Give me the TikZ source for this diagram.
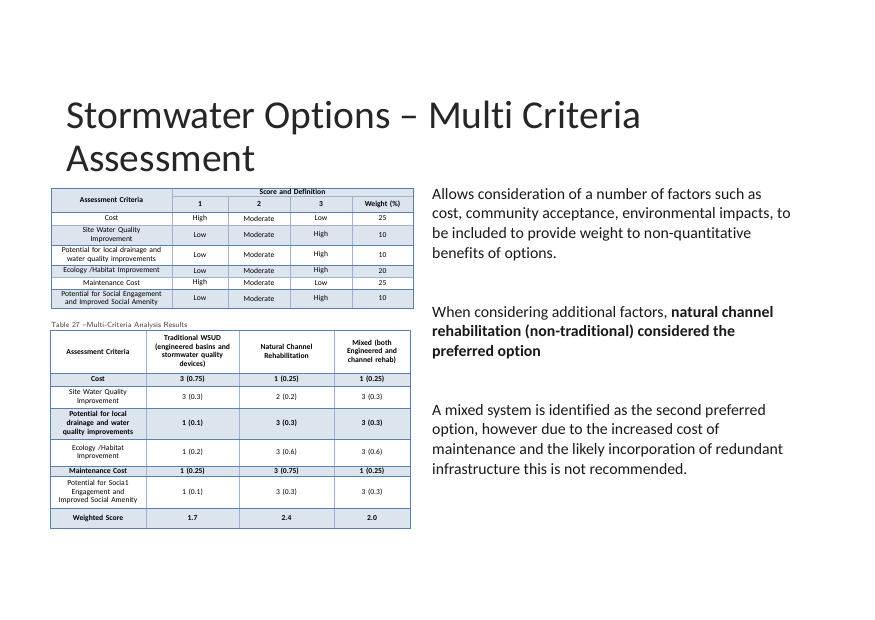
\documentclass[tikz,border=0pt]{standalone}
\usepackage{fontspec}
\setmainfont[Ligatures=NoCommon]{Carlito}
\definecolor{bd}{HTML}{5B7FAF}
\definecolor{sh}{HTML}{DCE4EE}
\newcommand{\tcell}[5]{\node[font=\fontsize{7.6}{8.6}\selectfont,align=center,text width={(#3-#1)*1pt-2pt},inner sep=0pt] at ({(#1+#3)/2},{(#2+#4)/2}) {#5};}
\newcommand{\tshade}[4]{\fill[sh] (#1,#2) rectangle (#3,#4);}
\begin{document}
\begin{tikzpicture}[x=1pt,y=-1pt]
\useasboundingbox (0,0) rectangle (875,619);
\fill[white] (0,0) rectangle (875,619);
\node[anchor=base west,font=\fontsize{39.5}{44}\selectfont,align=left,inner sep=0pt,text=black!85] (title) at (66,128) {Stormwater Options -- Multi Criteria};
\node[anchor=base west,font=\fontsize{39.5}{44}\selectfont,inner sep=0pt,text=black!85] (title2) at (66,171) {Assessment};
% table 1
\tshade{172}{188}{413}{212}
\tshade{51}{188}{172}{212}
\tshade{51}{225}{413}{245}
\tshade{51}{265}{413}{277}
\tshade{51}{289}{413}{308}
\draw[bd!60] (51,188) rectangle (413,308);
\foreach \y in {212,225,245,277,289} \draw[bd!60] (51,\y)--(413,\y);
\draw[bd!60] (172,196)--(413,196);
\foreach \x in {172} \draw[bd!60] (\x,188)--(\x,308);
\foreach \x in {228,290,352} \draw[bd!60] (\x,196)--(\x,308);
\draw[bd,line width=1pt] (51,188) rectangle (413,308);
\draw[bd,line width=1pt] (51,212)--(413,212) (51,265)--(413,265) (51,289)--(413,289) (51,245)--(413,245);
\tcell{51}{188}{172}{212}{\textbf{Assessment Criteria}}
\tcell{172}{188}{413}{196}{\textbf{Score and Definition}}
\tcell{172}{196}{228}{212}{\textbf{1}}\tcell{228}{196}{290}{212}{\textbf{2}}\tcell{290}{196}{352}{212}{\textbf{3}}\tcell{352}{196}{413}{212}{\textbf{Weight (\%)}}
\foreach \ya/\yb/\c/\a/\b/\cc/\w in {212/225/Cost/High/Moderate/Low/25,225/245/Site Water Quality\\Improvement/Low/Moderate/High/10,245/265/Potential for local drainage and\\water quality improvements/Low/Moderate/High/10,265/277/{Ecology /Habitat Improvement}/Low/Moderate/High/20,277/289/Maintenance Cost/High/Moderate/Low/25,289/308/Potential for Social Engagement\\and Improved Social Amenity/Low/Moderate/High/10}{
\tcell{51}{\ya}{172}{\yb}{\c}\tcell{172}{\ya}{228}{\yb}{\a}\tcell{228}{\ya}{290}{\yb}{\b}\tcell{290}{\ya}{352}{\yb}{\cc}\tcell{352}{\ya}{413}{\yb}{\w}}
% table 2
\node[anchor=base west,font=\fontsize{7.5}{9}\sffamily,inner sep=0pt,text=black!75] (cap) at (51,327) {Table 27 --Multi-Criteria Analysis Results};
\tshade{50}{373}{410}{386}
\tshade{50}{408}{410}{439}
\tshade{50}{466}{410}{476}
\tshade{50}{508}{410}{528}
\draw[bd!60] (50,330) rectangle (410,528);
\foreach \y in {373,386,408,439,466,476,508} \draw[bd!60] (50,\y)--(410,\y);
\foreach \x in {146,239,334} \draw[bd!60] (\x,330)--(\x,528);
\draw[bd,line width=1pt] (50,330) rectangle (410,528);
\draw[bd,line width=1pt] (50,373)--(410,373) (50,386)--(410,386) (50,408)--(410,408) (50,439)--(410,439) (50,466)--(410,466) (50,476)--(410,476) (50,508)--(410,508);
\tcell{50}{330}{146}{373}{\textbf{Assessment Criteria}}
\tcell{146}{330}{239}{373}{\textbf{Traditional WSUD\\(engineered basins and\\stormwater quality\\devices)}}
\tcell{239}{330}{334}{373}{\textbf{Natural Channel\\Rehabilitation}}
\tcell{334}{330}{410}{373}{\textbf{Mixed (both\\Engineered and\\channel rehab)}}
\foreach \ya/\yb/\c/\a/\b/\cc in {386/408/Site Water Quality\\Improvement/3 (0.3)/2 (0.2)/3 (0.3),439/466/{Ecology /Habitat\\Improvement}/1 (0.2)/3 (0.6)/3 (0.6),476/508/Potential for Socia1\\Engagement and\\Improved Social Amenity/1 (0.1)/3 (0.3)/3 (0.3)}{
\tcell{50}{\ya}{146}{\yb}{\c}\tcell{146}{\ya}{239}{\yb}{\a}\tcell{239}{\ya}{334}{\yb}{\b}\tcell{334}{\ya}{410}{\yb}{\cc}}
\foreach \ya/\yb/\c/\a/\b/\cc in {373/386/Cost/3 (0.75)/1 (0.25)/1 (0.25),408/439/Potential for local\\drainage and water\\quality improvements/1 (0.1)/3 (0.3)/3 (0.3),466/476/Maintenance Cost/1 (0.25)/3 (0.75)/1 (0.25),508/528/Weighted Score/1.7/2.4/2.0}{
\tcell{50}{\ya}{146}{\yb}{\textbf{\c}}\tcell{146}{\ya}{239}{\yb}{\textbf{\a}}\tcell{239}{\ya}{334}{\yb}{\textbf{\b}}\tcell{334}{\ya}{410}{\yb}{\textbf{\cc}}}
% right text
\tikzset{para/.style={anchor=north west,font=\fontsize{15.8}{19.7}\selectfont,align=left,inner sep=0pt,text=black!90}}
\node[para] (p1) at (432,188) {Allows consideration of a number of factors such as\\cost, community acceptance, environmental impacts, to\\be included to provide weight to non-quantitative\\benefits of options.};
\node[para] (p2) at (432,306) {When considering additional factors, \textbf{natural channel}\\\textbf{rehabilitation (non-traditional) considered the}\\\textbf{preferred option}};
\node[para] (p3) at (432,404) {A mixed system is identified as the second preferred\\option, however due to the increased cost of\\maintenance and the likely incorporation of redundant\\infrastructure this is not recommended.};
\end{tikzpicture}
\end{document}
